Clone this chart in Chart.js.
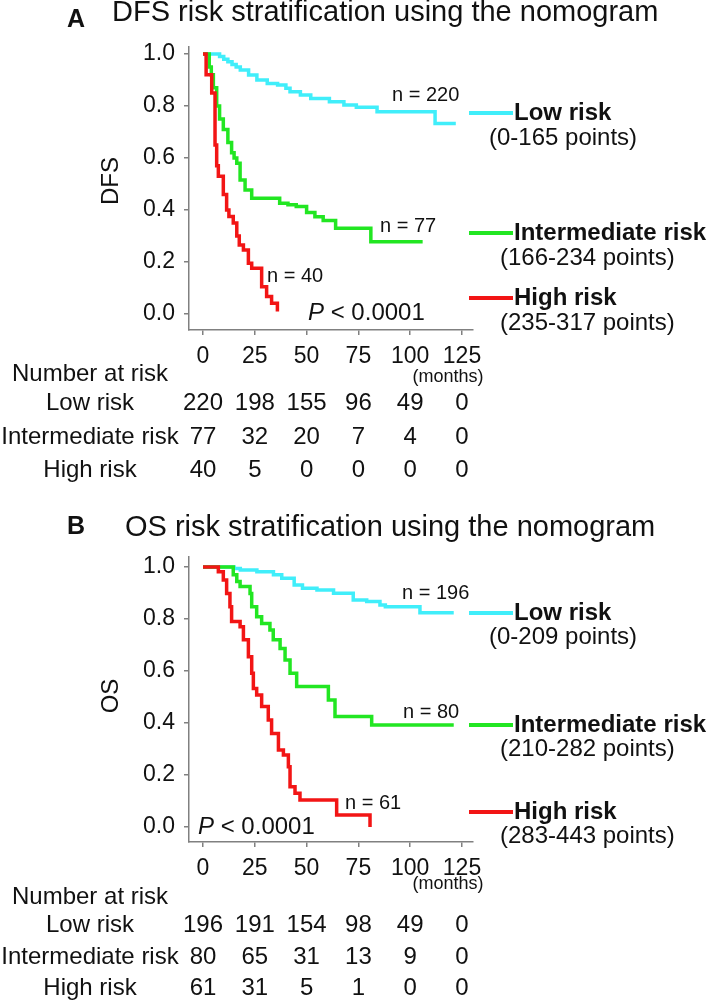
<!DOCTYPE html>
<html>
<head>
<meta charset="utf-8">
<script src="https://cdn.jsdelivr.net/npm/chart.js@4.4.1/dist/chart.umd.min.js"></script>
<style>
  html, body { margin: 0; padding: 0; background: #fff; }
  #wrap { position: relative; width: 709px; height: 1002px; overflow: hidden; }
  canvas { position: absolute; left: 0; }
</style>
</head>
<body>
<div id="wrap">
  <canvas id="panelA" width="709" height="500" style="top:0"></canvas>
  <canvas id="panelB" width="709" height="502" style="top:500px"></canvas>
</div>
<script>
// axis ticks
const xTicks = [0, 25, 50, 75, 100, 125];
const yTicks = [0, 0.2, 0.4, 0.6, 0.8, 1.0];

const groupNames = ["Low risk", "Intermediate risk", "High risk"];
const dfsPointRanges = ["(0-165 points)", "(166-234 points)", "(235-317 points)"];
const osPointRanges = ["(0-209 points)", "(210-282 points)", "(283-443 points)"];

// DFS curves (months, survival)
const dfsLowT = [0, 8, 10, 12, 14, 16, 18, 22, 26, 31, 36, 40, 42, 47, 52, 61, 68, 74, 84, 112, 122];
const dfsLowS = [1.0, 0.99, 0.98, 0.97, 0.96, 0.95, 0.938, 0.919, 0.90, 0.887, 0.881, 0.868, 0.855, 0.842, 0.829, 0.816, 0.804, 0.795, 0.778, 0.733, 0.733];
const dfsMidT = [0, 3, 4, 5, 6.6, 8, 9.8, 12, 13.8, 15, 16.3, 17.9, 20.3, 23.5, 37, 41, 45, 50, 54, 58, 64, 81, 106];
const dfsMidS = [1.0, 0.95, 0.92, 0.87, 0.80, 0.75, 0.71, 0.66, 0.62, 0.60, 0.58, 0.515, 0.477, 0.445, 0.426, 0.42, 0.413, 0.39, 0.374, 0.36, 0.33, 0.278, 0.278];
const dfsHighT = [0, 1.5, 4.2, 5.8, 6.6, 7.4, 9.8, 11.4, 12.5, 14.6, 16.3, 17.5, 19.5, 21.9, 23.5, 28.3, 30.7, 33.1, 35.9];
const dfsHighS = [1.0, 0.92, 0.85, 0.65, 0.57, 0.53, 0.46, 0.40, 0.375, 0.35, 0.30, 0.265, 0.246, 0.195, 0.176, 0.105, 0.067, 0.041, 0.01];

// OS curves (months, survival)
const osLowT = [0, 15, 18, 26, 34, 38, 44, 48, 55, 63, 72.5, 79, 85.4, 88, 104.7, 121];
const osLowS = [1.0, 0.994, 0.988, 0.982, 0.97, 0.957, 0.931, 0.918, 0.912, 0.899, 0.873, 0.867, 0.854, 0.847, 0.824, 0.824];
const osMidT = [0, 14.6, 16.3, 17.9, 22.7, 23.5, 25.9, 28.3, 32.3, 33.9, 37.2, 39.6, 42, 45.2, 60.5, 63.7, 81.4, 121];
const osMidS = [1.0, 0.97, 0.944, 0.925, 0.898, 0.847, 0.809, 0.783, 0.758, 0.72, 0.687, 0.642, 0.591, 0.54, 0.488, 0.425, 0.392, 0.392];
const osHighT = [0, 7.4, 9.8, 11.4, 13, 13.8, 17.9, 19.5, 21.9, 23.5, 24.3, 25.9, 28.3, 31.5, 33.1, 36.4, 38.8, 41.2, 42, 44.4, 46.8, 64.5, 80.6];
const osHighS = [1.0, 0.982, 0.95, 0.898, 0.847, 0.79, 0.77, 0.72, 0.655, 0.591, 0.533, 0.508, 0.463, 0.412, 0.36, 0.296, 0.277, 0.232, 0.155, 0.13, 0.104, 0.046, 0.0];

// number at risk
const dfsAtRiskLow = [220, 198, 155, 96, 49, 0];
const dfsAtRiskMid = [77, 32, 20, 7, 4, 0];
const dfsAtRiskHigh = [40, 5, 0, 0, 0, 0];
const osAtRiskLow = [196, 191, 154, 98, 49, 0];
const osAtRiskMid = [80, 65, 31, 13, 9, 0];
const osAtRiskHigh = [61, 31, 5, 1, 0, 0];

const colors = ["#40EEFA", "#22E622", "#F21515"];
const axisGray = "#808080";
const FONT = "'Liberation Sans', Arial, sans-serif";

Chart.defaults.font.family = FONT;
Chart.defaults.color = "#111";

function curve(t, s, color) {
  return {
    data: t.map((v, i) => ({ x: v, y: s[i] })),
    borderColor: color,
    borderWidth: 3.5,
    pointRadius: 0,
    stepped: true,
    fill: false,
    borderCapStyle: "butt",
  };
}

// draws titles, legend, annotations and number-at-risk table
const panelText = (p) => ({
  id: "panelText",
  afterDraw(chart) {
    const c = chart.ctx;
    const xs = chart.scales.x;
    c.save();
    c.fillStyle = "#111";
    c.textBaseline = "middle";
    c.textAlign = "left";

    c.font = "bold 25px " + FONT;
    c.fillText(p.letter, 67, p.letterY);
    c.font = "29px " + FONT;
    c.fillText(p.title, p.titleX, p.titleY);

    c.save();
    c.translate(111, p.yTitleY);
    c.rotate(-Math.PI / 2);
    c.textAlign = "center";
    c.font = "24px " + FONT;
    c.fillText(p.yTitle, 0, 0);
    c.restore();

    c.font = "20px " + FONT;
    p.nLabels.forEach((n) => c.fillText(n.text, n.x, n.y));

    c.font = "italic 24px " + FONT;
    c.fillText("P", p.pX, p.pY);
    const w = c.measureText("P").width;
    c.font = "24px " + FONT;
    c.fillText(" < 0.0001", p.pX + w, p.pY);

    // legend
    p.legendY.forEach((ly, i) => {
      c.strokeStyle = colors[i];
      c.lineWidth = 4;
      c.beginPath();
      c.moveTo(469, ly);
      c.lineTo(513, ly);
      c.stroke();
      c.font = "bold 24px " + FONT;
      c.fillText(groupNames[i], 514, ly);
      c.font = "24px " + FONT;
      c.fillText(p.ranges[i], p.rangeX[i], ly + p.rangeDy);
    });

    c.font = "18px " + FONT;
    c.textAlign = "center";
    c.fillText("(months)", 448, p.monthsY);

    c.font = "24px " + FONT;
    c.textAlign = "left";
    c.fillText("Number at risk", 12, p.narY);
    p.rows.forEach((row, r) => {
      c.textAlign = "center";
      c.fillText(groupNames[r], 90, p.rowY[r]);
      row.forEach((v, i) => c.fillText(String(v), xs.getPixelForValue(xTicks[i]), p.rowY[r]));
    });
    c.restore();
  },
});

function buildPanel(id, p) {
  const ctx = document.getElementById(id).getContext("2d");
  return new Chart(ctx, {
    type: "line",
    data: {
      datasets: [
        curve(p.highT, p.highS, colors[2]),
        curve(p.midT, p.midS, colors[1]),
        curve(p.lowT, p.lowS, colors[0]),
      ],
    },
    options: {
      responsive: false,
      animation: false,
      layout: { padding: { left: 0, top: p.top, right: 236, bottom: 0 } },
      plugins: { legend: { display: false }, tooltip: { enabled: false } },
      scales: {
        x: {
          type: "linear",
          min: -6.76,
          max: 130.3,
          afterFit: (s) => { s.height = p.xAxisH; },
          afterBuildTicks: (s) => { s.ticks = xTicks.map((v) => ({ value: v })); },
          grid: { drawOnChartArea: false, tickLength: 5, color: axisGray, lineWidth: 1.5 },
          border: { color: axisGray, width: 1.5 },
          ticks: { font: { size: 23 }, padding: 8, maxRotation: 0, autoSkip: false, color: "#111" },
        },
        y: {
          type: "linear",
          min: p.yMin,
          max: p.yMax,
          afterFit: (s) => { s.width = 189; },
          afterBuildTicks: (s) => { s.ticks = yTicks.map((v) => ({ value: v })); },
          grid: { drawOnChartArea: false, tickLength: 5, color: axisGray, lineWidth: 1.5 },
          border: { color: axisGray, width: 1.5 },
          ticks: { font: { size: 23 }, padding: 9, color: "#111", callback: (v) => v.toFixed(1) },
        },
      },
    },
    plugins: [panelText(p)],
  });
}

buildPanel("panelA", {
  lowT: dfsLowT, lowS: dfsLowS, midT: dfsMidT, midS: dfsMidS, highT: dfsHighT, highS: dfsHighS,
  top: 47, xAxisH: 170, yMin: -16 / 260, yMax: 1 + 7 / 260,
  letter: "A", letterY: 20, title: "DFS risk stratification using the nomogram", titleX: 112, titleY: 13,
  yTitle: "DFS", yTitleY: 181,
  nLabels: [
    { text: "n = 220", x: 392, y: 95 },
    { text: "n = 77", x: 380, y: 226 },
    { text: "n = 40", x: 267, y: 276 },
  ],
  pX: 308, pY: 313,
  legendY: [113, 233, 298], ranges: dfsPointRanges, rangeX: [489, 500, 500], rangeDy: 25,
  monthsY: 377, narY: 374,
  rows: [dfsAtRiskLow, dfsAtRiskMid, dfsAtRiskHigh], rowY: [403, 437, 470],
});

buildPanel("panelB", {
  lowT: osLowT, lowS: osLowS, midT: osMidT, midS: osMidS, highT: osHighT, highS: osHighS,
  top: 57, xAxisH: 160, yMin: -15 / 260, yMax: 1 + 10 / 260,
  letter: "B", letterY: 27, title: "OS risk stratification using the nomogram", titleX: 125, titleY: 28,
  yTitle: "OS", yTitleY: 196,
  nLabels: [
    { text: "n = 196", x: 402, y: 93 },
    { text: "n = 80", x: 403, y: 212 },
    { text: "n = 61", x: 345, y: 303 },
  ],
  pX: 198, pY: 327,
  legendY: [113, 225, 312], ranges: osPointRanges, rangeX: [489, 500, 500], rangeDy: 24,
  monthsY: 384, narY: 397,
  rows: [osAtRiskLow, osAtRiskMid, osAtRiskHigh], rowY: [425, 457, 488],
});
</script>
</body>
</html>
